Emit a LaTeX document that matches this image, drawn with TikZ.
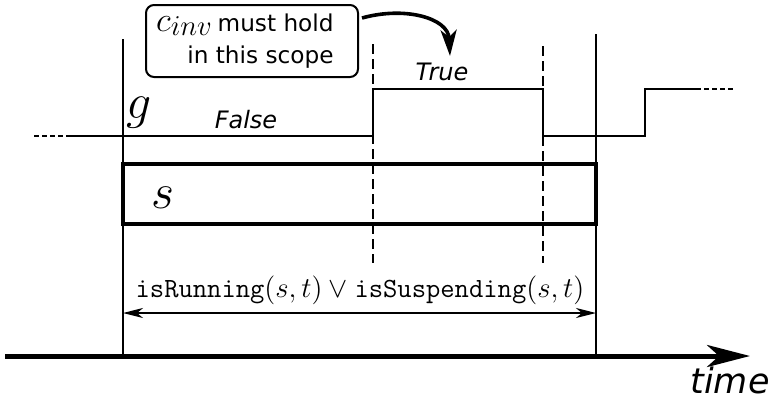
\documentclass[tikz,border=0pt]{standalone}
\usepackage{fontspec}
\setmainfont{DejaVu Sans}
\usetikzlibrary{arrows.meta,calc}

\begin{document}
\begin{tikzpicture}[x=0.5pt,y=-0.5pt,
  thinline/.style={line width=1pt, line cap=rect},
  dashline/.style={line width=1pt, dash pattern=on 5pt off 2.5pt},
  fadeline/.style={line width=1pt, dash pattern=on 2.5pt off 1.5pt},
  scopebox/.style={draw, line width=2pt, minimum width=236.5pt, minimum height=30pt, inner sep=0pt},
  calloutbox/.style={draw, line width=1pt, rounded corners=4pt, minimum width=106pt, minimum height=36pt, inner sep=0pt},
  txt/.style={font=\fontsize{12}{14}\selectfont\itshape, inner sep=0pt},
  notetxt/.style={font=\fontsize{11.6}{13}\selectfont, inner sep=0pt, anchor=base east},
  axis/.style={line width=2.5pt, -{Stealth[length=21.5pt, width=11pt, inset=6pt]}},
  span/.style={line width=1pt, {Stealth[length=10pt, width=5pt, inset=3pt]}-{Stealth[length=10pt, width=5pt, inset=3pt]}},
  pointer/.style={line width=1.8pt, -{Stealth[length=13pt, width=8pt, inset=3.5pt]}}
]
\useasboundingbox (0,0) rectangle (775,402);

% time axis
\coordinate (t0) at (5,356);
\coordinate (t1) at (750,356);
\draw[axis] (t0) -- (t1);
\node[font=\fontsize{17.5}{17.5}\selectfont\itshape, anchor=base, inner sep=0pt] (timelbl) at (730,393) {time};

% scope boundaries
\coordinate (lTop) at (123,39);
\coordinate (lBot) at (123,356);
\coordinate (rTop) at (596,34);
\coordinate (rBot) at (596,356);
\draw[thinline, line cap=butt] (lTop) -- (lBot);
\draw[thinline, line cap=butt] (rTop) -- (rBot);

% switching instants of g
\coordinate (d1Top) at (373,44);
\coordinate (d1Bot) at (373,263);
\coordinate (d2Top) at (543,46);
\coordinate (d2Bot) at (543,263);
\draw[dashline] (d1Top) -- (d1Bot);
\draw[dashline] (d2Top) -- (d2Bot);

% signal g
\coordinate (g0) at (34,136);
\coordinate (g1) at (70,136);
\coordinate (g2) at (373,136);
\coordinate (g3) at (373,89);
\coordinate (g4) at (543,89);
\coordinate (g5) at (543,136);
\coordinate (g6) at (645,136);
\coordinate (g7) at (645,89);
\coordinate (g8) at (696,89);
\coordinate (g9) at (735,89);
\draw[fadeline] (g0) -- (g1);
\draw[thinline, line cap=butt, line join=miter] (g1) -- (g2) -- (g3) -- (g4) -- (g5) -- (g6) -- (g7) -- (g8);
\draw[fadeline] (g8) -- (g9);
\node[font=\fontsize{23}{23}\selectfont, anchor=base, inner sep=0pt] (glbl) at (139,118) {$g$};
\node[txt] (falselbl) at (246,120) {False};
\node[txt] (truelbl) at (442,72) {True};

% the scope s
\node[scopebox] (scope) at (359.5,194) {};
\node[font=\fontsize{38}{38}\selectfont, anchor=base, inner sep=0pt] (slbl) at (163,208) {$s$};

% duration of the scope
\node[font=\fontsize{13.9}{16}\selectfont, inner sep=0pt] (cond) at (360,290)
  {$\texttt{isRunning}(s,t) \vee \texttt{isSuspending}(s,t)$};
\coordinate (spanL) at (123,313);
\coordinate (spanR) at (596,313);
\draw[span] (spanL) -- (spanR);

% callout
\node[calloutbox] (callout) at (252,41) {};
\node[notetxt] (note1) at (334,31) {must hold};
\node[inner sep=0pt, anchor=base east] (cinv) at ([xshift=-2.5pt]note1.base west)
  {{\fontsize{18}{18}\selectfont$c$}\raisebox{-2pt}{\fontsize{15}{15}\selectfont$inv$}};
\node[notetxt] (note2) at (334,63) {in this scope};
\coordinate (pointerEnd) at (450,56);
\draw[pointer] ($(callout.north east)+(3,14)$) .. controls (405,6) and (448,18) .. (pointerEnd);
\end{tikzpicture}
\end{document}
